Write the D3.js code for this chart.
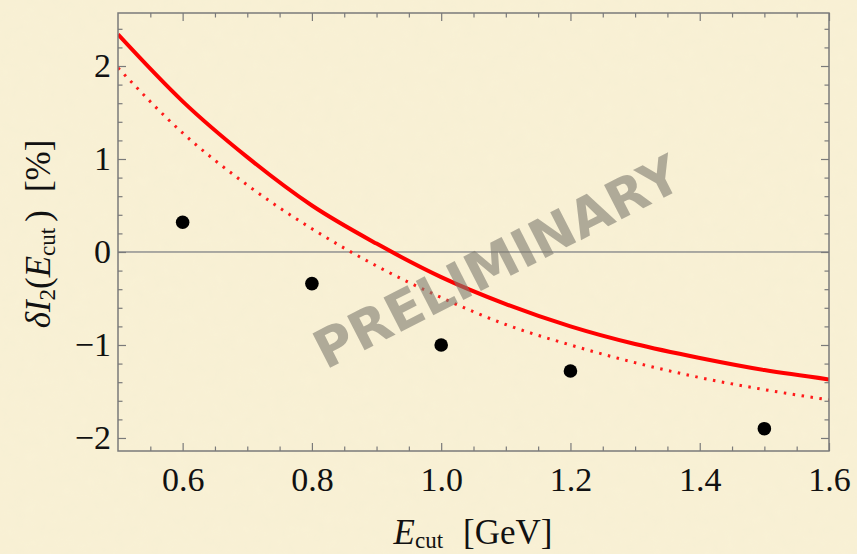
<!DOCTYPE html>
<html>
<head>
<meta charset="utf-8">
<script src="https://cdn.jsdelivr.net/npm/d3@7"></script>
<style>
  html, body { margin: 0; padding: 0; background: #f8f0d5; }
  svg { display: block; }
</style>
</head>
<body>
<div id="chart"></div>
<script>
// data
var ecut = [0.6, 0.8, 1.0, 1.2, 1.5];
var deltaI2 = [0.32, -0.34, -1.00, -1.28, -1.90];

// curve samples (every 0.1 GeV)
var curveX = [0.5, 0.6, 0.7, 0.8, 0.9, 1.0, 1.1, 1.2, 1.3, 1.4, 1.5, 1.6];
var solidY = [2.34, 1.62, 1.02, 0.50, 0.09, -0.27, -0.56, -0.80, -0.99, -1.14, -1.27, -1.37];
var dottedY = [1.98, 1.28, 0.72, 0.25, -0.15, -0.49, -0.78, -1.00, -1.19, -1.35, -1.48, -1.59];

// ticks
var xMajor = [0.6, 0.8, 1.0, 1.2, 1.4, 1.6];
var xMinor = [0.55, 0.65, 0.7, 0.75, 0.85, 0.9, 0.95, 1.05, 1.1, 1.15, 1.25, 1.3, 1.35, 1.45, 1.5, 1.55];
var yMajor = [-2, -1, 0, 1, 2];
var yMinor = [-1.8, -1.6, -1.4, -1.2, -0.8, -0.6, -0.4, -0.2, 0.2, 0.4, 0.6, 0.8, 1.2, 1.4, 1.6, 1.8, 2.2, 2.4];

function init(){
    var w = 857;
    var h = 554;
    var margin = {top: 13, right: 28, bottom: 103, left: 118};
    var iw = w - margin.left - margin.right;
    var ih = h - margin.top - margin.bottom;

    var xScale = d3.scaleLinear().domain([0.5, 1.6]).range([0, iw]);
    var yScale = d3.scaleLinear().domain([-2.14, 2.57]).range([ih, 0]);

    var svg = d3.select('#chart')
                .append('svg')
                .attr('width', w)
                .attr('height', h);

    // parchment-like background with faint noise
    var defs = svg.append('defs');
    var f = defs.append('filter').attr('id', 'paper')
                .attr('x', 0).attr('y', 0).attr('width', '100%').attr('height', '100%');
    f.append('feTurbulence').attr('type', 'fractalNoise')
        .attr('baseFrequency', 0.08).attr('numOctaves', 2).attr('seed', 3);
    f.append('feColorMatrix').attr('type', 'matrix')
        .attr('values', '0 0 0 0 0.85  0 0 0 0 0.80  0 0 0 0 0.62  0 0 0 0.18 0');
    f.append('feComposite').attr('in2', 'SourceGraphic').attr('operator', 'in');

    svg.append('rect').attr('width', w).attr('height', h).attr('fill', '#f9f1d5');
    svg.append('rect').attr('width', w).attr('height', h).attr('fill', '#f9f1d5')
        .attr('filter', 'url(#paper)');

    var g = svg.append('g')
                .attr('transform', 'translate(' + margin.left + ',' + margin.top + ')');

    var clip = defs.append('clipPath').attr('id', 'plotclip');
    clip.append('rect').attr('width', iw).attr('height', ih);

    // zero line
    g.append('line')
        .attr('x1', 0).attr('x2', iw)
        .attr('y1', yScale(0)).attr('y2', yScale(0))
        .attr('stroke', '#5d6270')
        .attr('stroke-width', 1);

    var line = d3.line()
                .x(function(d){ return xScale(d[0]); })
                .y(function(d){ return yScale(d[1]); })
                .curve(d3.curveMonotoneX);

    var plot = g.append('g').attr('clip-path', 'url(#plotclip)');

    // dotted curve
    plot.append('path')
        .datum(d3.zip(curveX, dottedY))
        .attr('d', line)
        .attr('fill', 'none')
        .attr('stroke', '#ff1a1a')
        .attr('stroke-width', 3)
        .attr('stroke-dasharray', '2.5,6.5');

    // solid curve
    plot.append('path')
        .datum(d3.zip(curveX, solidY))
        .attr('d', line)
        .attr('fill', 'none')
        .attr('stroke', '#ff0000')
        .attr('stroke-width', 4);

    // points
    g.selectAll('circle')
        .data(d3.zip(ecut, deltaI2))
        .enter()
        .append('circle')
        .attr('cx', function(d){ return xScale(d[0]); })
        .attr('cy', function(d){ return yScale(d[1]); })
        .attr('r', 6.8)
        .attr('fill', '#000');

    // axes: major + minor ticks, pointing inward, on all four sides
    var tickFont = '"Liberation Serif", "Times New Roman", serif';
    var fmtX = d3.format('.1f');
    var fmtY = function(d){ return d < 0 ? '\u2212' + Math.abs(d) : String(d); };

    function styleAxis(sel){
        sel.select('.domain').remove();
        sel.selectAll('line').attr('stroke', '#7a7a7a').attr('stroke-width', 1.2);
        sel.selectAll('text')
            .attr('font-family', tickFont)
            .attr('font-size', 34)
            .attr('fill', '#111');
    }

    g.append('g').attr('transform', 'translate(0,' + ih + ')')
        .call(d3.axisBottom(xScale).tickValues(xMajor).tickSize(-8).tickPadding(16).tickFormat(fmtX))
        .call(styleAxis);
    g.append('g').attr('transform', 'translate(0,' + ih + ')')
        .call(d3.axisBottom(xScale).tickValues(xMinor).tickSize(-4.5).tickFormat(''))
        .call(styleAxis);
    g.append('g')
        .call(d3.axisTop(xScale).tickValues(xMajor).tickSize(-8).tickFormat(''))
        .call(styleAxis);
    g.append('g')
        .call(d3.axisTop(xScale).tickValues(xMinor).tickSize(-4.5).tickFormat(''))
        .call(styleAxis);

    g.append('g')
        .call(d3.axisLeft(yScale).tickValues(yMajor).tickSize(-8).tickPadding(7).tickFormat(fmtY))
        .call(styleAxis);
    g.append('g')
        .call(d3.axisLeft(yScale).tickValues(yMinor).tickSize(-4.5).tickFormat(''))
        .call(styleAxis);
    g.append('g').attr('transform', 'translate(' + iw + ',0)')
        .call(d3.axisRight(yScale).tickValues(yMajor).tickSize(-8).tickFormat(''))
        .call(styleAxis);
    g.append('g').attr('transform', 'translate(' + iw + ',0)')
        .call(d3.axisRight(yScale).tickValues(yMinor).tickSize(-4.5).tickFormat(''))
        .call(styleAxis);

    // frame
    g.append('rect')
        .attr('width', iw).attr('height', ih)
        .attr('fill', 'none')
        .attr('stroke', '#7a7a7a')
        .attr('stroke-width', 1.5);

    // watermark
    svg.append('text')
        .attr('transform', 'translate(497,262) rotate(-27)')
        .attr('text-anchor', 'middle')
        .attr('dominant-baseline', 'central')
        .attr('font-family', '"DejaVu Sans", sans-serif')
        .attr('font-weight', 'bold')
        .attr('font-size', 53)
        .attr('fill', '#7f7b70')
        .attr('fill-opacity', 0.6)
        .text('PRELIMINARY');

    // x axis title
    var xt = svg.append('text')
        .attr('x', 473).attr('y', 544)
        .attr('text-anchor', 'middle')
        .attr('font-family', tickFont)
        .attr('font-size', 35)
        .attr('fill', '#111');
    xt.append('tspan').attr('font-style', 'italic').text('E');
    xt.append('tspan').attr('font-size', 23).attr('dy', 4).text('cut');
    xt.append('tspan').attr('dy', -4).attr('dx', 20).text('[GeV]');

    // y axis title
    var yt = svg.append('text')
        .attr('transform', 'translate(50,234) rotate(-90)')
        .attr('text-anchor', 'middle')
        .attr('font-family', tickFont)
        .attr('font-size', 35)
        .attr('fill', '#111');
    yt.append('tspan').attr('font-style', 'italic').text('\u03B4I');
    yt.append('tspan').attr('font-size', 23).attr('dy', 5).text('2');
    yt.append('tspan').attr('dy', -5).text('(');
    yt.append('tspan').attr('font-style', 'italic').text('E');
    yt.append('tspan').attr('font-size', 23).attr('dy', 5).text('cut');
    yt.append('tspan').attr('dy', -5).attr('dx', 6).text(')');
    yt.append('tspan').attr('dx', 18).text('[%]');
}

window.onload = init;
</script>
</body>
</html>
